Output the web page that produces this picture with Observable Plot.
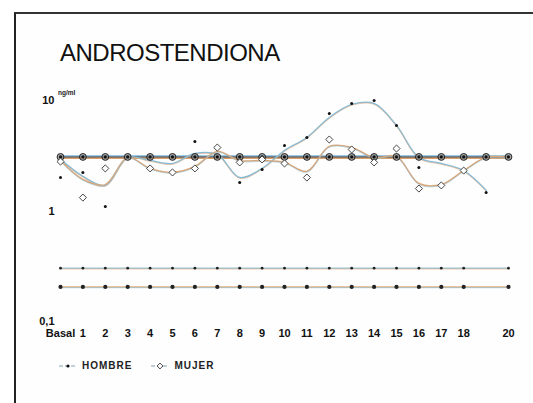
<!DOCTYPE html>
<html>
<head>
<meta charset="utf-8">
<script src="https://cdn.jsdelivr.net/npm/d3@7"></script>
<script src="https://cdn.jsdelivr.net/npm/@observablehq/plot@0.6"></script>
<style>
  html, body { margin: 0; padding: 0; background: #fff; }
  #wrap { position: relative; width: 533px; height: 403px; overflow: hidden; background: #fff; font-family: "Liberation Sans", Arial, sans-serif; }
  #frame { position: absolute; left: 14px; top: 12px; width: 540px; height: 420px; border-left: 2px solid #222; border-top: 2px solid #333; background: #fefefe; }
  #title { position: absolute; left: 60px; top: 41px; font-size: 24px; letter-spacing: -0.5px; color: #111; line-height: 1; }
  #unit { position: absolute; left: 58px; top: 89px; font-size: 6.5px; font-weight: bold; color: #222; }
  #chart { position: absolute; left: 0; top: 0; }
  #legend { position: absolute; left: 58px; top: 360px; display: flex; gap: 18px; align-items: center; font-size: 10px; font-weight: bold; letter-spacing: 1px; color: #222; }
  #legend .item { display: flex; align-items: center; gap: 4px; }
</style>
</head>
<body>
<div id="wrap">
  <div id="frame"></div>
  <div id="title">ANDROSTENDIONA</div>
  <div id="unit">ng/ml</div>
  <div id="chart"></div>
  <div id="legend"></div>
</div>
<script>
// ---- data ----
const days = [0,1,2,3,4,5,6,7,8,9,10,11,12,13,14,15,16,17,18,19,20];
const dayLabels = ["Basal","1","2","3","4","5","6","7","8","9","10","11","12","13","14","15","16","17","18","","20"];
const yTicks = [0.1, 1, 10];
const yTickLabels = ["0,1", "1", "10"];

// individual measurements (ng/ml); null = point sits on the reference line
const hombrePoints = [2.05,2.28,1.12,null,null,null,4.35,null,1.85,2.42,4.00,4.72,7.79,9.59,10.2,6.07,2.53,null,2.37,1.50,null];
const mujerPoints  = [2.86,1.35,2.48,null,2.48,2.28,2.48,3.83,2.81,2.99,2.75,2.05,4.53,3.68,2.81,3.75,1.63,1.74,2.37,null,null];

// smoothed curves drawn through the measurements
const hombreCurve = [2.99,2.10,1.74,3.11,2.92,2.75,3.38,3.31,2.05,2.48,3.60,4.72,7.16,9.39,9.59,6.07,3.11,2.75,2.37,1.57];
const mujerCurve  = [2.92,1.97,1.77,3.11,2.48,2.28,2.58,3.53,2.92,2.92,2.81,2.33,3.92,3.83,3.11,3.18,1.81,1.77,2.37,3.11,3.11];

// reference lines
const refLevel = 3.15;
const lowLine1 = 0.31;
const lowLine2 = 0.21;
const lowDays = [0,1,2,3,4,5,6,7,8,9,10,11,12,13,14,15,16,17,18,20];

// ---- tables ----
const toRows = (arr) => arr.map((v, i) => ({x: days[i], v})).filter(d => d.v != null);
const hP = toRows(hombrePoints);
const mP = toRows(mujerPoints);
const hC = toRows(hombreCurve);
const mC = toRows(mujerCurve);
const refRows = days.map(x => ({x, v: refLevel}));
const low1Rows = lowDays.map(x => ({x, v: lowLine1}));
const low2Rows = lowDays.map(x => ({x, v: lowLine2}));

const plot = Plot.plot({
  width: 533,
  height: 403,
  marginLeft: 60,
  marginRight: 25,
  marginTop: 101,
  marginBottom: 81,
  style: {fontFamily: '"Liberation Sans", Arial, sans-serif', fontSize: "11px", background: "transparent", color: "#111"},
  x: {domain: [0, 20], axis: null},
  y: {type: "log", domain: [0.1, 10], axis: null},
  marks: [
    Plot.axisX({ticks: days, tickFormat: d => dayLabels[d], label: null, tickSize: 0, tickPadding: 7, fontWeight: "bold", fontSize: 11}),
    Plot.axisY({ticks: yTicks, tickFormat: d => yTickLabels[yTicks.indexOf(d)], label: null, tickSize: 0, tickPadding: 6, dy: -1, fontWeight: "bold", fontSize: 11}),
    // low reference lines
    Plot.line(low1Rows, {x: "x", y: "v", stroke: "#9cc3d6", strokeWidth: 1.4}),
    Plot.line(low1Rows, {x: "x", y: "v", stroke: "#e0b084", strokeWidth: 0.8, dy: 0.8, strokeOpacity: 0.8}),
    Plot.line(low2Rows, {x: "x", y: "v", stroke: "#e0ae7c", strokeWidth: 1.5}),
    Plot.line(low2Rows, {x: "x", y: "v", stroke: "#8fbcd2", strokeWidth: 0.9, dy: 0.8, strokeOpacity: 0.8}),
    Plot.dot(low1Rows, {x: "x", y: "v", r: 1.4, fill: "#222"}),
    Plot.dot(low2Rows, {x: "x", y: "v", r: 2.1, fill: "#222"}),
    // main reference line
    Plot.line(refRows, {x: "x", y: "v", stroke: "#7fb7d8", strokeWidth: 1.6, dy: -1}),
    Plot.line(refRows, {x: "x", y: "v", stroke: "#d9a06c", strokeWidth: 1.6, dy: 1.2}),
    Plot.line(refRows, {x: "x", y: "v", stroke: "#3a3a3a", strokeWidth: 1.1}),
    // smoothed curves
    Plot.line(hC, {x: "x", y: "v", curve: "catmull-rom", stroke: "#86bcd8", strokeWidth: 1.5}),
    Plot.line(hC, {x: "x", y: "v", curve: "catmull-rom", stroke: "#e2ab7c", strokeWidth: 0.7, dy: 0.9, strokeOpacity: 0.8}),
    Plot.line(mC, {x: "x", y: "v", curve: "catmull-rom", stroke: "#d9a678", strokeWidth: 1.5}),
    Plot.line(mC, {x: "x", y: "v", curve: "catmull-rom", stroke: "#8fc0d8", strokeWidth: 0.7, dy: 0.9, strokeOpacity: 0.8}),
    // markers on the reference line
    Plot.dot(refRows, {x: "x", y: "v", r: 3.4, symbol: "circle", fill: "#8a8a8a", fillOpacity: 0.7, stroke: "#222", strokeWidth: 1}),
    Plot.dot(refRows, {x: "x", y: "v", r: 1.6, fill: "#111"}),
    // individual measurements
    Plot.dot(hP, {x: "x", y: "v", r: 1.5, fill: "#111"}),
    Plot.dot(mP, {x: "x", y: "v", r: 3.2, symbol: "diamond2", fill: "#fff", stroke: "#333", strokeWidth: 0.9})
  ]
});
document.getElementById("chart").appendChild(plot);

// legend
const legend = d3.select("#legend");
const items = [
  {label: "HOMBRE", sym: "dot"},
  {label: "MUJER", sym: "diamond"}
];
items.forEach(it => {
  const g = legend.append("div").attr("class", "item");
  const s = g.append("svg").attr("width", 20).attr("height", 10);
  s.append("line").attr("x1", 1).attr("x2", 19).attr("y1", 5).attr("y2", 5)
    .attr("stroke", "#7f9fb0").attr("stroke-width", 1.2).attr("stroke-dasharray", "4,2");
  if (it.sym === "dot") {
    s.append("circle").attr("cx", 10).attr("cy", 5).attr("r", 1.6).attr("fill", "#111");
  } else {
    s.append("path").attr("d", d3.symbol(d3.symbolDiamond2, 22)()).attr("transform", "translate(10,5)")
      .attr("fill", "#fff").attr("stroke", "#333").attr("stroke-width", 0.9);
  }
  g.append("span").text(it.label);
});
</script>
</body>
</html>
